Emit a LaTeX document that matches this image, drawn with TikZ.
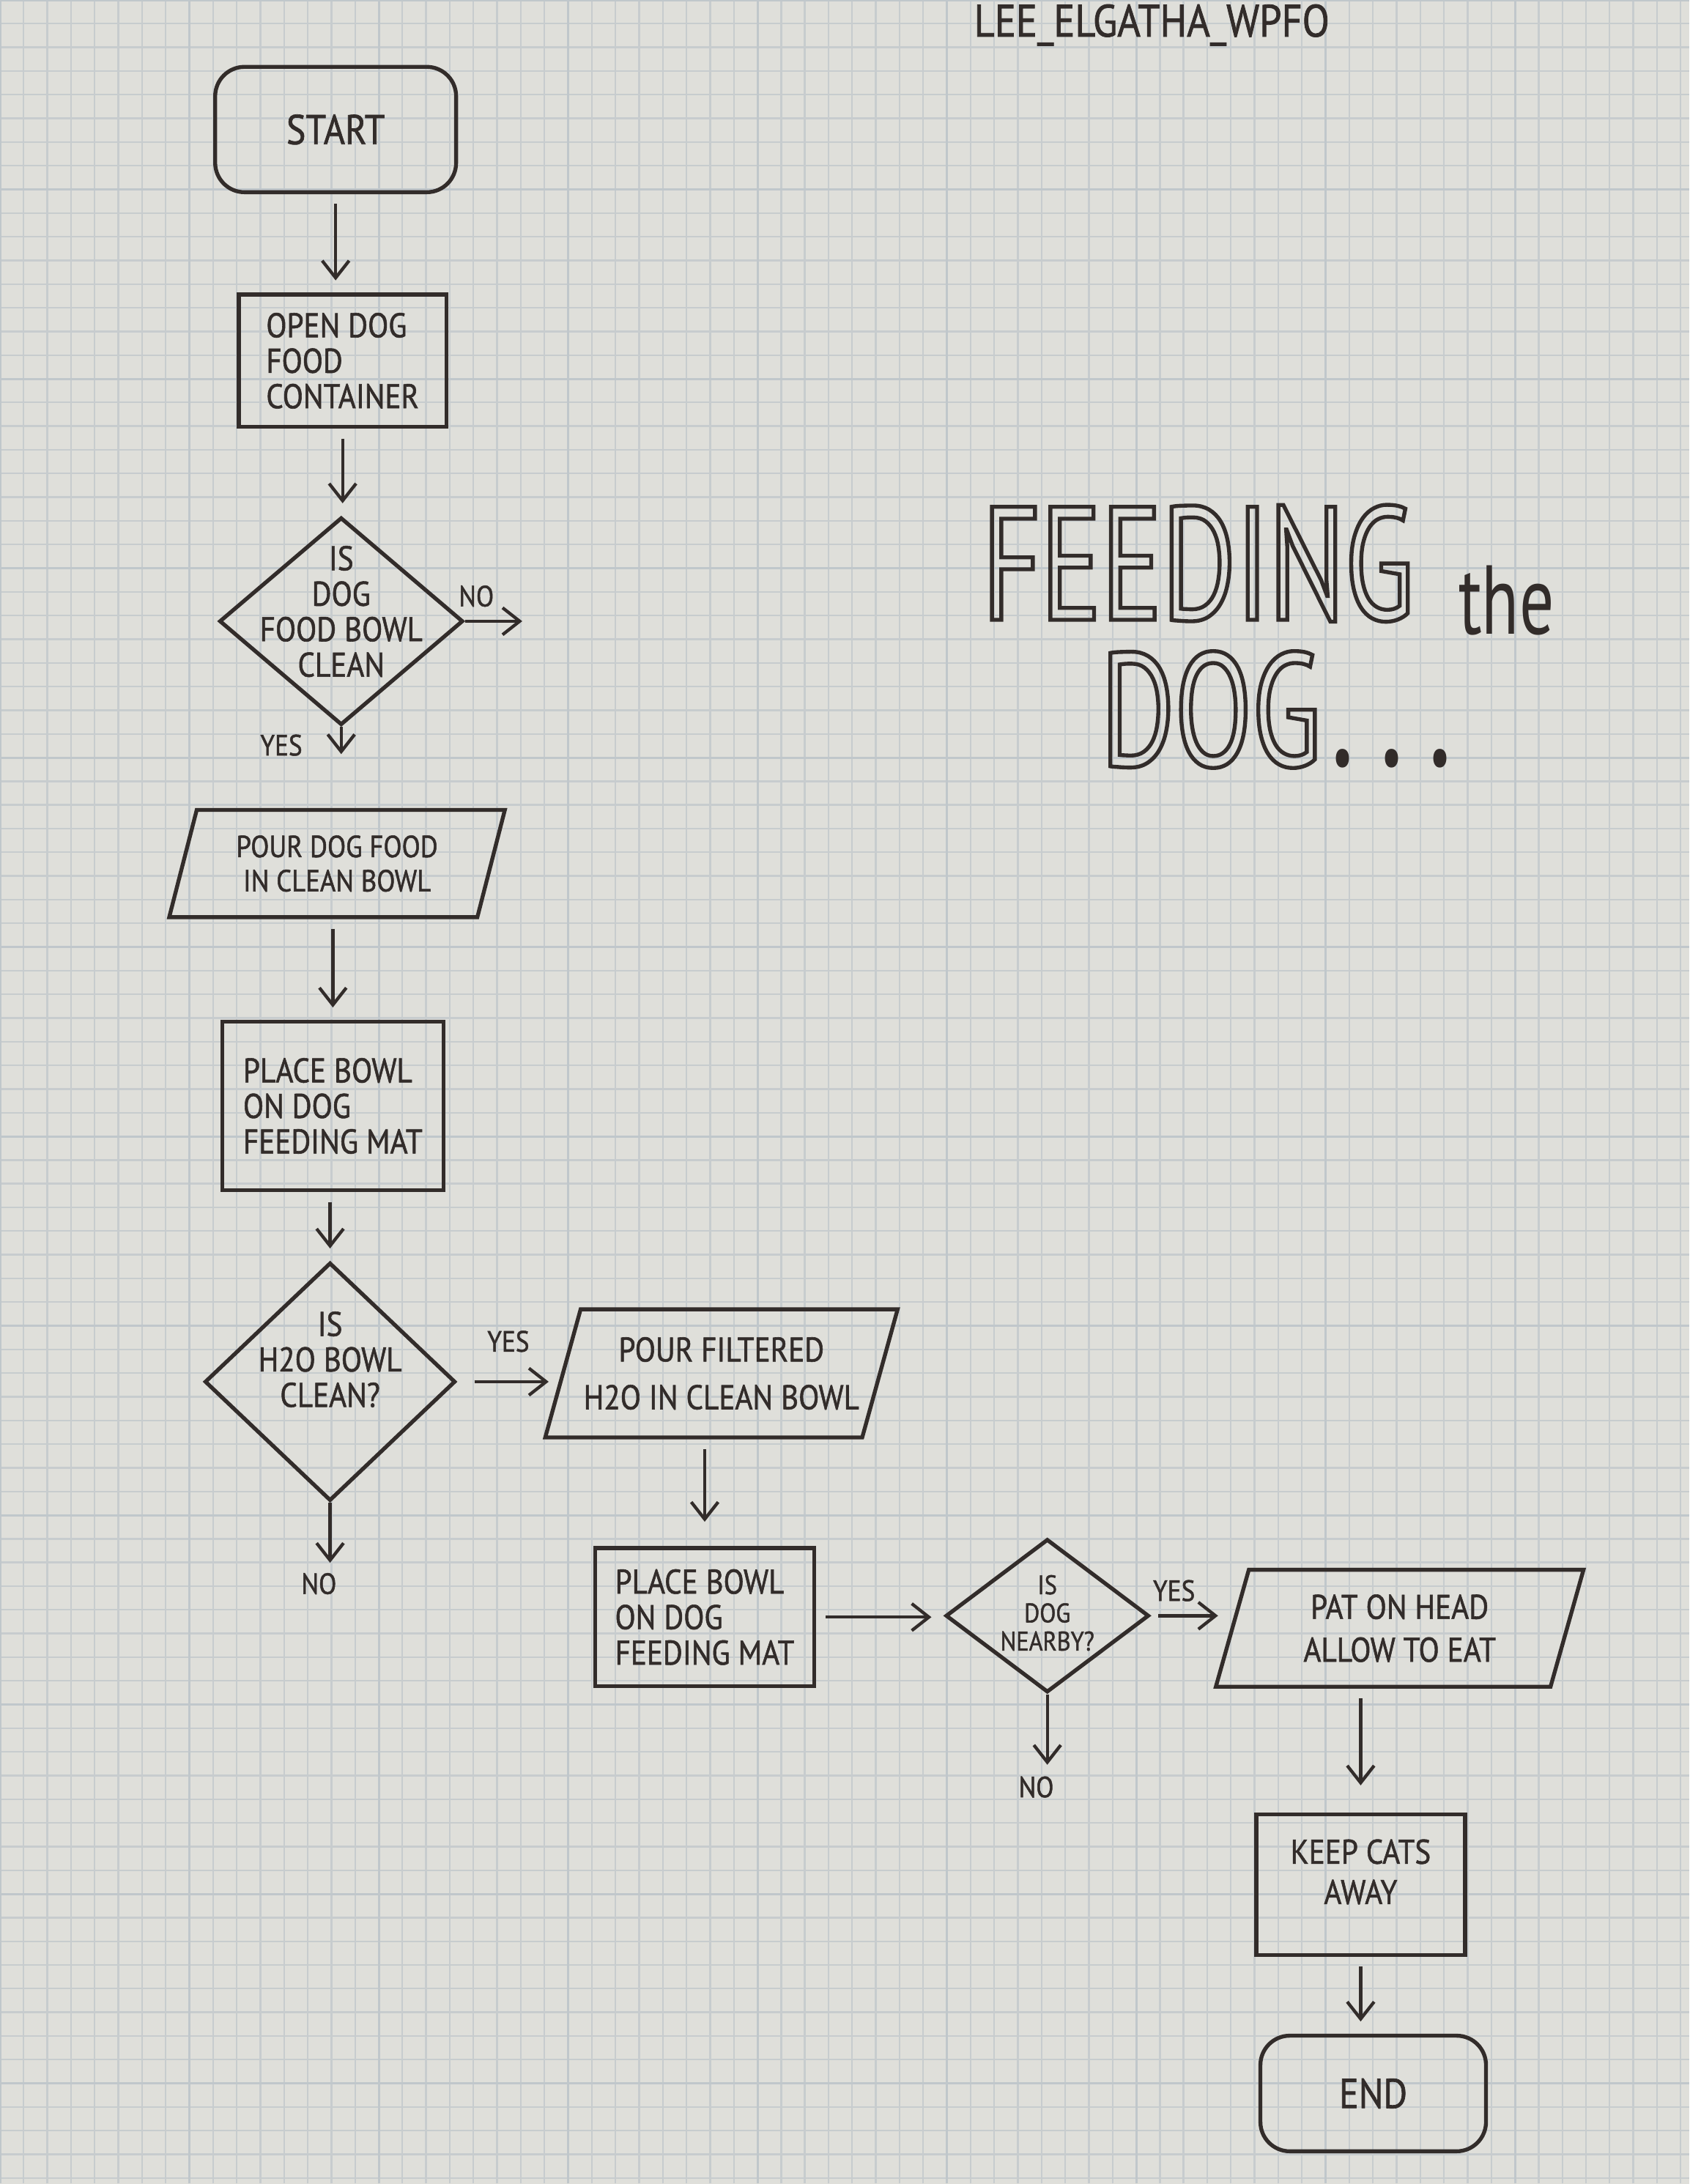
\documentclass[tikz,border=0pt]{standalone}
\usepackage{fontspec}
\setmainfont[FakeStretch=0.88,FakeBold=1.2]{PT Sans}
\newfontfamily\titlefont[FakeStretch=0.7]{PT Sans}
\usetikzlibrary{shapes.geometric}
\usetikzlibrary{arrows.meta}
\definecolor{ink}{RGB}{50,44,42}
\definecolor{paper}{RGB}{223,223,218}
\definecolor{gridminor}{RGB}{199,204,206}
\definecolor{gridmajor}{RGB}{192,199,203}
\newcommand{\hand}{\fontsize{14}{14.5}\selectfont}
\newcommand{\hollow}[1]{\special{pdf:literal direct 1 Tr 1.6 w}#1\special{pdf:literal direct 0 Tr}}
\tikzset{
  every node/.style={text=ink,font=\hand},
  terminal/.style={draw=ink,line width=1.6pt,rectangle,rounded corners=12pt,inner sep=0pt,font=\fontsize{17}{17}\selectfont},
  process/.style={draw=ink,line width=1.6pt,rectangle,inner sep=0pt,align=left},
  decision/.style={draw=ink,line width=1.6pt,diamond,inner sep=0pt},
  inout/.style={draw=ink,line width=1.6pt,trapezium,trapezium left angle=64,trapezium right angle=116,trapezium stretches body,inner sep=0pt,align=center},
  qtext/.style={align=center,inner sep=0pt},
  flow/.style={draw=ink,line width=1.3pt,-{Straight Barb[length=7pt,width=11pt,line width=1.3pt]},shorten <=4pt,shorten >=5pt},
  branch/.style={font=\fontsize{12}{12}\selectfont,inner sep=0pt},
}
\newcommand{\termbox}[6]{\node[terminal,minimum width=#4*0.02cm,minimum height=#5*0.02cm] (#3) at ( #1 , #2 ) {#6};}
\newcommand{\procbox}[6]{\node[process,minimum width=#4*0.02cm,minimum height=#5*0.02cm] (#3) at ( #1 , #2 ) {#6};}
\newcommand{\iobox}[7][]{\node[inout,minimum width=#5*0.02cm,minimum height=#6*0.02cm,#1] (#4) at ( #2 , #3 ) {#7};}
\newcommand{\askbox}[8][]{\node[decision,minimum width=#5*0.02cm,minimum height=#6*0.02cm] (#4) at ( #2 , #3 ) {};
  \node[qtext,#1] (#4-q) at ( #2 , #3 + #7 ) {#8};}

\begin{document}
\begin{tikzpicture}[x=0.02cm,y=-0.02cm]
\useasboundingbox (0,0) rectangle (1213,1568);
% graph paper
\fill[paper] (0,0) rectangle (1213,1568);
\draw[gridminor,line width=0.7pt,step=0.34cm] (0cm,-31.36cm) grid (24.26cm,0cm);
\draw[gridmajor,line width=0.9pt,step=2.72cm] (0cm,-31.36cm) grid (24.26cm,0cm);
% heading (hollow letters first)
\node[anchor=base west,inner sep=0pt,font=\titlefont\fontsize{66}{66}\selectfont] (title1) at (705,445) {\hollow{FEEDING}};
\node[anchor=base west,inner sep=0pt,font=\titlefont\fontsize{66}{66}\selectfont] (title3) at (790,550) {\hollow{DOG}\hspace{4pt}.\hspace{10pt}.\hspace{10pt}.};
\node[anchor=base west,inner sep=0pt,font=\titlefont\fontsize{40}{40}\selectfont] (title2) at (1047,455) {the};
\node[font=\fontsize{18.5}{18.5}\selectfont] (author) at (827,18) {LEE\_ELGATHA\_WPFO};
% left column
\termbox{241}{93}{start}{173}{90}{START}
\procbox{246}{259}{open}{149}{95}{OPEN DOG\\FOOD\\CONTAINER}
\askbox{245}{446}{foodq}{175}{149}{-7}{IS\\DOG\\FOOD BOWL\\CLEAN}
\iobox[font=\fontsize{12.5}{14}\selectfont]{242}{620}{pour}{241}{77}{POUR DOG FOOD\\IN CLEAN BOWL}
\procbox{239}{794}{place1}{159}{121}{PLACE BOWL\\ON DOG\\FEEDING MAT}
\askbox{237}{992}{waterq}{180}{171}{-16}{IS\\H2O BOWL\\CLEAN?}
% middle row
\iobox{518}{986}{pourwater}{253}{92}{POUR FILTERED\\[5pt]H2O IN CLEAN BOWL}
\procbox{506}{1161}{place2}{157}{99}{PLACE BOWL\\ON DOG\\FEEDING MAT}
\askbox[font=\fontsize{11}{11.5}\selectfont]{752}{1160}{nearq}{146}{110}{-2}{IS\\DOG\\NEARBY?}
% right column
\iobox{1005}{1169}{pat}{264}{84}{PAT ON HEAD\\[3pt]ALLOW TO EAT}
\node[process,align=center,minimum width=150*0.02cm,minimum height=101*0.02cm] (cats) at (977,1353) {KEEP CATS\\[2pt]AWAY\\[-4pt]\mbox{}};
\termbox{986}{1503}{finish}{162}{83}{END}
% loose ends
\coordinate (foodno) at (375,446);
\coordinate (waterno) at (237,1122);
\coordinate (nearno) at (752,1267);
% arrows
\draw[flow] (start.south) -- (start.south |- open.north);
\draw[flow] (open.south) -- (open.south |- foodq.north);
\draw[flow,shorten <=0pt,shorten >=0pt] (foodq.east) -- (foodno);
\draw[flow,shorten <=0pt,shorten >=22pt] (foodq.south) -- (foodq.south |- pour.north);
\draw[flow] (place1.north |- pour.south) -- (place1.north);
\draw[flow] (waterq.north |- place1.south) -- (waterq.north);
\draw[flow,shorten <=0pt,shorten >=0pt] (waterq.south) -- (waterno);
\draw[flow,shorten <=7pt] (waterq.east) -- (waterq.east -| pourwater.west);
\draw[flow,shorten >=10pt] (place2.north |- pourwater.south) -- (place2.north);
\draw[flow] (place2.east) -- (place2.east -| nearq.west);
\draw[flow,shorten <=0pt,shorten >=0pt] (nearq.south) -- (nearno);
\draw[flow,shorten <=3pt] (nearq.east) -- (nearq.east -| pat.west);
\draw[flow,shorten >=11pt] (cats.north |- pat.south) -- (cats.north);
\draw[flow] (cats.south) -- (cats.south |- finish.north);
% branch labels
\node[branch] (foodnolbl) at (342,428) {NO};
\node[branch] (foodyeslbl) at (202,535) {YES};
\node[branch] (waternolbl) at (229,1137) {NO};
\node[branch] (wateryeslbl) at (365,963) {YES};
\node[branch] (nearnolbl) at (744,1283) {NO};
\node[branch] (nearyeslbl) at (843,1142) {YES};
\end{tikzpicture}
\end{document}
